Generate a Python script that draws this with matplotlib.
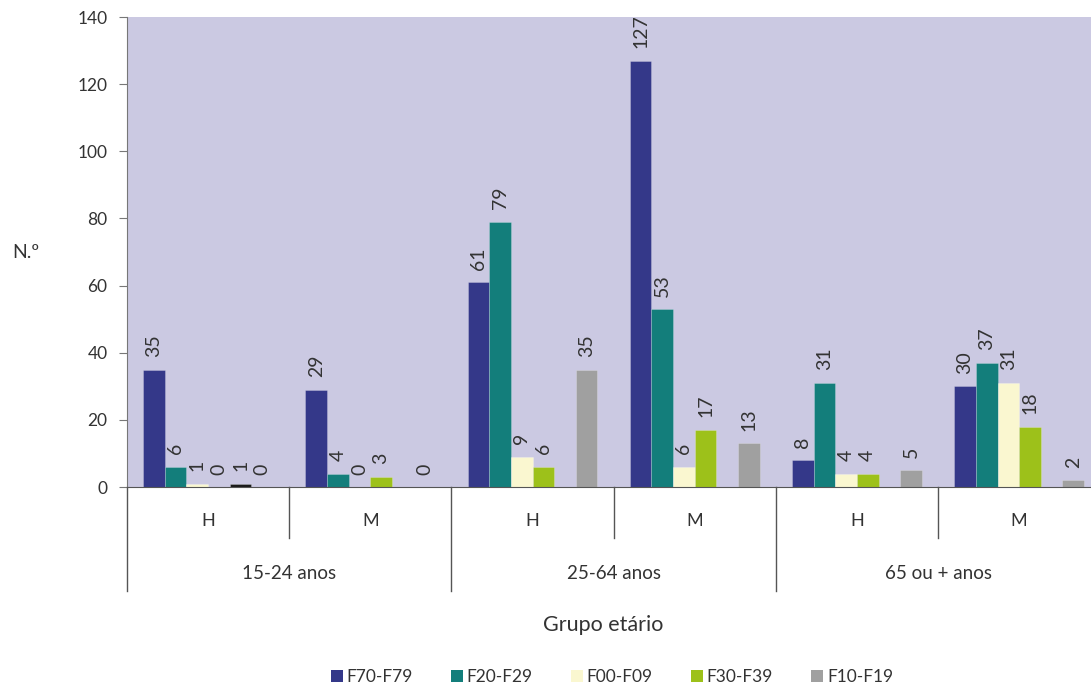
import numpy as np
import matplotlib
matplotlib.use("Agg")
import matplotlib.pyplot as plt
from matplotlib.patches import Patch
from matplotlib.transforms import blended_transform_factory

# Age groups and sex sub-categories along the x axis
age_groups = ["15-24 anos", "25-64 anos", "65 ou + anos"]
sexes = ["H", "M"]

# Counts per sub-category: (15-24 H, 15-24 M, 25-64 H, 25-64 M, 65+ H, 65+ M)
f70_f79 = [35, 29, 61, 127, 8, 30]
f20_f29 = [6, 4, 79, 53, 31, 37]
f00_f09 = [1, 0, 9, 6, 4, 31]
f30_f39 = [0, 3, 6, 17, 4, 18]
other = [1, np.nan, np.nan, np.nan, np.nan, np.nan]
f10_f19 = [0, 0, 35, 13, 5, 2]

series_names = ["F70-F79", "F20-F29", "F00-F09", "F30-F39", "", "F10-F19"]
series_values = [f70_f79, f20_f29, f00_f09, f30_f39, other, f10_f19]
series_colors = ["#343889", "#137e7b", "#faf7d0", "#9dc11a", "#1a1a1a", "#a0a0a0"]

TEXT = "#333333"
LINE = "#555555"


def main():

    plt.rcParams["font.family"] = ["Lato", "DejaVu Sans"]

    fig = plt.figure(figsize=(10.91, 6.87), dpi=100)
    ax = fig.add_axes([0.1164, 0.2911, 0.8836, 0.6841])
    ax.set_facecolor("#cbc9e2")

    n_sub = len(age_groups) * len(sexes)
    bar_w = 0.8 / len(series_values)

    for i, (name, vals, color) in enumerate(zip(series_names, series_values, series_colors)):
        x = np.arange(n_sub) + 0.1 + bar_w * (i + 0.5)
        vals = np.array(vals, dtype=float)
        ax.bar(x, vals, width=bar_w, color=color,
               edgecolor="#ffffff40", linewidth=0.6, zorder=2)
        for xi, v in zip(x, vals):
            if np.isnan(v):
                continue
            ax.annotate(f"{int(v)}", (xi, v), xytext=(0, 9),
                        textcoords="offset points", rotation=90,
                        ha="center", va="bottom", fontsize=14, color=TEXT)

    ax.set_xlim(0, 5.943)
    ax.set_ylim(0, 140)
    ax.set_yticks(np.arange(0, 141, 20))
    ax.set_xticks([])
    ax.tick_params(axis="y", length=6, color="#777777", labelsize=12.5,
                   labelcolor=TEXT, pad=8)

    for side in ["top", "right"]:
        ax.spines[side].set_visible(False)
    ax.spines["left"].set_color("#777777")
    ax.spines["bottom"].set_color(LINE)

    # Two-level category axis below the plot
    trans = blended_transform_factory(ax.transData, ax.transAxes)
    for k in range(n_sub + 1):
        low = -0.221 if k % 2 == 0 else -0.1085
        ax.plot([k, k], [0, low], transform=trans, color=LINE,
                linewidth=1, clip_on=False)

    for k in range(n_sub):
        ax.text(k + 0.5, -0.072, sexes[k % 2], transform=trans,
                ha="center", va="center", fontsize=13, color=TEXT)

    for g, label in enumerate(age_groups):
        ax.text(2 * g + 1, -0.183, label, transform=trans,
                ha="center", va="center", fontsize=13.5, color=TEXT)

    fig.text(0.553, 1 - 625 / 687, "Grupo etário", ha="center", va="center",
             fontsize=15.5, color=TEXT)
    fig.text(0.011, 1 - 252 / 687, "N.º", ha="left", va="center",
             fontsize=14, color=TEXT)

    handles = [Patch(facecolor=c, edgecolor="none")
               for n, c in zip(series_names, series_colors) if n]
    labels = [n for n in series_names if n]
    fig.legend(handles, labels, loc="center", ncol=5, frameon=False,
               bbox_to_anchor=(612 / 1091, 1 - 677 / 687),
               fontsize=12.5, handlelength=0.7, handleheight=0.7,
               handletextpad=0.2, columnspacing=2.2, labelcolor=TEXT)

    fig.savefig("out.png", dpi=100)


if __name__ == "__main__":
    main()
